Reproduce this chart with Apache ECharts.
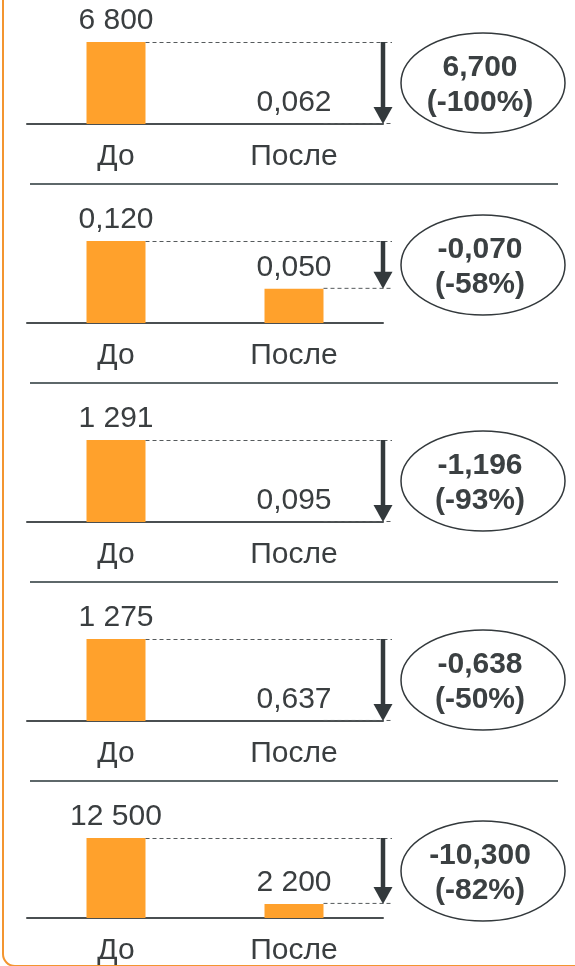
<!DOCTYPE html>
<html>
<head>
<meta charset="utf-8">
<script src="https://cdn.jsdelivr.net/npm/echarts@6/dist/echarts.min.js"></script>
<style>
  html, body { margin: 0; padding: 0; background: #fff; }
  #chart { width: 575px; height: 966px; }
</style>
</head>
<body>
<div id="chart"></div>
<script>
// values
var categories = ['До', 'После']
var before = [6800, 0.120, 1291, 1275, 12500]
var after = [0.062, 0.050, 0.095, 0.637, 2200]
var changeLabels = ['6,700', '-0,070', '-1,196', '-0,638', '-10,300']
var pctLabels = ['(-100%)', '(-58%)', '(-93%)', '(-50%)', '(-82%)']

var FONT = '"Liberation Sans", Arial, sans-serif'
var TEXT = '#3a3e40'
var ORANGE = '#ffa12c'
var PANEL_TOP = 42
var PANEL_STEP = 199
var PANEL_H = 82
var GRID_LEFT = 27
var GRID_W = 356
var BAR_W = 59

function fmt (v) {
  if (v < 1) return v.toFixed(3).replace('.', ',')
  return String(Math.round(v)).replace(/\B(?=(\d{3})+(?!\d))/g, ' ')
}

var chart = echarts.init(document.getElementById('chart'))
var grids = []
var xAxes = []
var yAxes = []
var series = []
var graphics = []

before.forEach(function (b, i) {
  grids.push({ left: GRID_LEFT, width: GRID_W, top: PANEL_TOP + PANEL_STEP * i, height: PANEL_H })
  xAxes.push({
    type: 'category',
    gridIndex: i,
    data: categories,
    axisLine: { lineStyle: { color: '#4a4f51', width: 2 } },
    axisTick: { show: false },
    axisLabel: { fontSize: 30, fontFamily: FONT, color: TEXT, margin: 18 }
  })
  yAxes.push({ type: 'value', gridIndex: i, min: 0, max: b, show: false, splitLine: { show: false } })
  series.push({
    type: 'bar',
    xAxisIndex: i,
    yAxisIndex: i,
    barWidth: BAR_W,
    itemStyle: { color: ORANGE },
    label: {
      show: true,
      position: 'top',
      distance: 6,
      fontSize: 30,
      fontFamily: FONT,
      color: TEXT,
      formatter: function (p) { return fmt(p.value) }
    },
    data: [b, after[i]],
    z: 2
  })
  series.push({
    type: 'custom',
    xAxisIndex: i,
    yAxisIndex: i,
    clip: false,
    z: 5,
    data: [[0, b, after[i]]],
    renderItem: function (params, api) {
      var p0 = api.coord([0, api.value(1)])
      var p1 = api.coord([1, api.value(2)])
      var band = api.size([1, 0])[0]
      var ax = p1[0] + band / 2
      var yB = p0[1]
      var yA = p1[1]
      var cy = api.coord([0, (api.value(1) + api.value(2)) / 2])[1]
      var k = params.seriesIndex / 2 | 0
      var dash = { stroke: '#555a5c', lineWidth: 1, lineDash: [4, 3] }
      return {
        type: 'group',
        children: [
          { type: 'line', shape: { x1: p0[0] + BAR_W / 2, y1: yB + 0.5, x2: ax + 9, y2: yB + 0.5 }, style: dash },
          { type: 'line', shape: { x1: p1[0] + BAR_W / 2, y1: yA - 0.5, x2: ax + 9, y2: yA - 0.5 }, style: dash },
          { type: 'line', shape: { x1: ax, y1: yB, x2: ax, y2: yA - 14 }, style: { stroke: '#33393c', lineWidth: 4.5 } },
          { type: 'polygon', shape: { points: [[ax - 9.5, yA - 17], [ax + 9.5, yA - 17], [ax, yA]] }, style: { fill: '#33393c' } },
          { type: 'ellipse', shape: { cx: ax + 100, cy: cy, rx: 82, ry: 50 }, style: { fill: '#fff', stroke: '#33393c', lineWidth: 1.5 } },
          {
            type: 'text',
            x: ax + 97,
            y: cy + 2,
            style: {
              text: changeLabels[k] + '\n' + pctLabels[k],
              fontSize: 30,
              fontWeight: 'bold',
              fontFamily: FONT,
              fill: '#3b4042',
              lineHeight: 35,
              align: 'center',
              verticalAlign: 'middle'
            }
          }
        ]
      }
    }
  })
  if (i < before.length - 1) {
    var sy = PANEL_TOP + PANEL_STEP * i + PANEL_H + 60
    graphics.push({
      type: 'line',
      shape: { x1: 30, y1: sy, x2: 558, y2: sy },
      style: { stroke: '#5e686a', lineWidth: 2 }
    })
  }
})

graphics.push({
  type: 'rect',
  shape: { x: 3, y: -30, width: 700, height: 996, r: 12 },
  style: { fill: 'none', stroke: '#f39530', lineWidth: 2 }
})

chart.setOption({
  animation: false,
  grid: grids,
  xAxis: xAxes,
  yAxis: yAxes,
  series: series,
  graphic: graphics
})
</script>
</body>
</html>
